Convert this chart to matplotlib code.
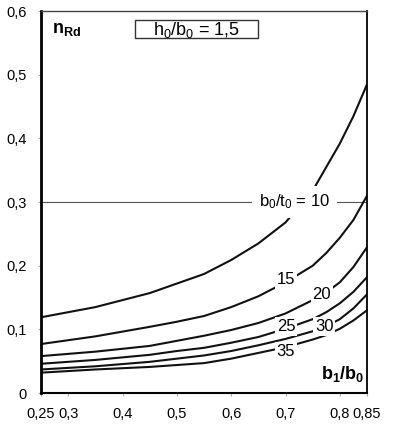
import matplotlib
matplotlib.use('Agg')
import matplotlib.pyplot as plt
from matplotlib.patches import Rectangle

plt.rcParams['font.family'] = ['Liberation Sans', 'DejaVu Sans']
plt.rcParams['mathtext.fontset'] = 'custom'
plt.rcParams['mathtext.rm'] = 'Liberation Sans'
plt.rcParams['mathtext.it'] = 'Liberation Sans'
plt.rcParams['mathtext.bf'] = 'Liberation Sans:bold'

# b1/b0 values at which the curves were read
x_vals = [0.25, 0.35, 0.45, 0.50, 0.55, 0.60, 0.65, 0.70, 0.75, 0.775, 0.80, 0.825, 0.85]

# n_Rd for each b0/t0 curve
n_10 = [0.119, 0.135, 0.157, 0.172, 0.187, 0.209, 0.235, 0.268, 0.318, 0.355, 0.392, 0.435, 0.485]
n_15 = [0.077, 0.089, 0.104, 0.112, 0.121, 0.135, 0.152, 0.174, 0.200, 0.220, 0.244, 0.272, 0.310]
n_20 = [0.058, 0.065, 0.074, 0.082, 0.090, 0.099, 0.110, 0.125, 0.146, 0.158, 0.174, 0.198, 0.229]
n_25 = [0.046, 0.052, 0.060, 0.066, 0.071, 0.079, 0.088, 0.101, 0.116, 0.127, 0.141, 0.159, 0.182]
n_30 = [0.037, 0.042, 0.049, 0.054, 0.059, 0.066, 0.075, 0.085, 0.097, 0.105, 0.116, 0.133, 0.155]
n_35 = [0.032, 0.037, 0.041, 0.044, 0.047, 0.054, 0.063, 0.072, 0.084, 0.091, 0.101, 0.114, 0.130]

curves = [n_10, n_15, n_20, n_25, n_30, n_35]

# curve labels: text and where they sit
labels = ['$b_0/t_0$ = 10', '15', '20', '25', '30', '35']
label_pos = [(0.716, 0.300), (0.701, 0.179), (0.767, 0.155), (0.701, 0.105), (0.771, 0.105), (0.701, 0.066)]

x_ticks = [0.25, 0.3, 0.4, 0.5, 0.6, 0.7, 0.8, 0.85]
x_ticklabels = ['0,25', '0,3', '0,4', '0,5', '0,6', '0,7', '0,8', '0,85']
y_ticks = [0, 0.1, 0.2, 0.3, 0.4, 0.5, 0.6]
y_ticklabels = ['0', '0,1', '0,2', '0,3', '0,4', '0,5', '0,6']

fig = plt.figure(figsize=(4, 4.3), dpi=100)
ax = fig.add_axes([0.1025, 0.086, 0.815, 0.888])

ax.axhline(0.3, color='#555555', lw=0.8, zorder=1)
for n in curves:
    ax.plot(x_vals, n, color='#111111', lw=1.5, zorder=2)

for i, (txt, (lx, ly)) in enumerate(zip(labels, label_pos)):
    ax.text(lx, ly, txt, fontsize=12, ha='center', va='center', zorder=3,
            bbox=dict(facecolor='white', edgecolor='none', pad=5 if i == 0 else 1.5))

# ratio box at the top
ax.add_patch(Rectangle((0.288, 0.929), 0.378, 0.047, transform=ax.transAxes,
                       facecolor='white', edgecolor='#333333', lw=1.0, zorder=3))
ax.text(0.477, 0.952, '$h_0/b_0$ = 1,5', transform=ax.transAxes, fontsize=13,
        ha='center', va='center', zorder=4)
ax.text(0.270, 0.571, r'$\mathbf{n_{Rd}}$', fontsize=13, ha='left', va='center')
ax.text(0.846, 0.030, r'$\mathbf{b_1/b_0}$', fontsize=13, ha='right', va='center')

ax.set_xlim(0.25, 0.85)
ax.set_ylim(0, 0.6)
ax.set_xticks(x_ticks)
ax.set_xticklabels(x_ticklabels)
ax.set_yticks(y_ticks)
ax.set_yticklabels(y_ticklabels)
ax.tick_params(axis='both', labelsize=10.5, length=2, color='#aaaaaa', pad=8)

ax.spines['left'].set_linewidth(2.0)
ax.spines['bottom'].set_linewidth(1.5)
ax.spines['right'].set_linewidth(1.3)
ax.spines['top'].set_linewidth(1.0)
ax.spines['top'].set_color('#444444')

fig.savefig('out.png', dpi=100)
